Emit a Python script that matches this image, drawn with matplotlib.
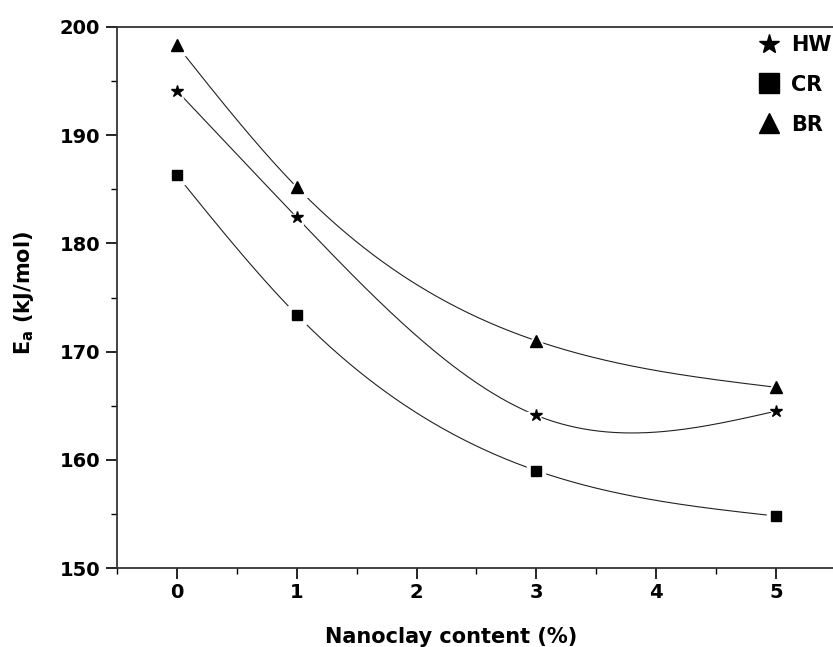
import numpy as np
import matplotlib
matplotlib.use("Agg")
import matplotlib.pyplot as plt
from matplotlib.lines import Line2D
from matplotlib.ticker import MultipleLocator

# ---- data ----
nanoclay = [0, 1, 3, 5]
hw = [194.1, 182.4, 164.1, 164.5]
cr = [186.3, 173.4, 159.0, 154.8]
br = [198.3, 185.2, 171.0, 166.7]
series_labels = ["HW", "CR", "BR"]
x_ticks = [0, 1, 2, 3, 4, 5]
y_ticks = [150, 160, 170, 180, 190, 200]

FONT = "DejaVu Sans"
plt.rcParams["font.family"] = [FONT]
plt.rcParams["font.weight"] = "bold"
plt.rcParams["mathtext.fontset"] = "custom"
plt.rcParams["mathtext.rm"] = FONT + ":bold"
plt.rcParams["mathtext.it"] = FONT + ":bold"


def natural_spline(x, y, xs):
    x = np.asarray(x, float)
    y = np.asarray(y, float)
    n = len(x)
    h = np.diff(x)
    A = np.zeros((n, n))
    b = np.zeros(n)
    A[0, 0] = 1
    A[-1, -1] = 1
    for i in range(1, n - 1):
        A[i, i - 1] = h[i - 1]
        A[i, i] = 2 * (h[i - 1] + h[i])
        A[i, i + 1] = h[i]
        b[i] = 6 * ((y[i + 1] - y[i]) / h[i] - (y[i] - y[i - 1]) / h[i - 1])
    M = np.linalg.solve(A, b)
    out = np.empty_like(xs)
    for k, xv in enumerate(xs):
        i = min(max(np.searchsorted(x, xv) - 1, 0), n - 2)
        hi = h[i]
        a = x[i + 1] - xv
        c = xv - x[i]
        out[k] = (M[i] * a ** 3 / (6 * hi) + M[i + 1] * c ** 3 / (6 * hi)
                  + (y[i] / hi - M[i] * hi / 6) * a
                  + (y[i + 1] / hi - M[i + 1] * hi / 6) * c)
    return out


W, H = 833, 647
fig = plt.figure(figsize=(W / 100, H / 100), dpi=100)
left, right, top, bottom = 117, 836, 27, 568
ax = fig.add_axes([left / W, 1 - bottom / H, (right - left) / W, (bottom - top) / H])

xs = np.linspace(0, 5, 400)
styles = [("*", 9, hw), ("s", 6.5, cr), ("^", 8.5, br)]
for marker, ms, vals in styles:
    ax.plot(xs, natural_spline(nanoclay, vals, xs), color="#222222", lw=0.8, zorder=2)
    ax.plot(nanoclay, vals, linestyle="none", marker=marker, ms=ms + 6,
            color="white", mec="white", zorder=3)
    ax.plot(nanoclay, vals, linestyle="none", marker=marker, ms=ms,
            color="black", mec="black", zorder=4)

ax.set_xlim(-0.5, 5.5)
ax.set_ylim(150, 200)
ax.set_xticks(x_ticks)
ax.set_yticks(y_ticks)
ax.xaxis.set_minor_locator(MultipleLocator(0.5))
ax.yaxis.set_minor_locator(MultipleLocator(5))
ax.tick_params(axis="both", which="major", direction="out", length=8, width=1.2,
               labelsize=14, pad=4)
ax.tick_params(axis="both", which="minor", direction="out", length=4, width=1.0)
ax.tick_params(axis="x", pad=3)
ax.tick_params(top=False, right=False)
for lab in ax.get_xticklabels() + ax.get_yticklabels():
    lab.set_fontweight("bold")
for s in ax.spines.values():
    s.set_linewidth(1.3)
    s.set_color("#333333")

ax.set_xlabel("Nanoclay content (%)", fontsize=15, fontweight="bold")
ax.xaxis.set_label_coords((451 - left) / (right - left), -(627 - bottom) / (bottom - top))
ax.set_ylabel(r"E$_{\mathrm{a}}$ (kJ/mol)", fontsize=15, fontweight="bold")
ax.yaxis.set_label_coords((36 - left) / (right - left), (bottom - 293) / (bottom - top))

handles = [Line2D([], [], linestyle="none", marker=m, ms=ms, color="black")
           for m, ms in [("*", 15), ("s", 14.5), ("^", 15)]]
leg = ax.legend(handles, series_labels, loc="upper left", frameon=False,
                bbox_to_anchor=(759 / W, 1 - 35 / H), bbox_transform=fig.transFigure,
                prop={"weight": "bold", "size": 15},
                handlelength=1.0, handletextpad=0.55, labelspacing=0.95,
                borderaxespad=0, borderpad=0)

fig.savefig("out.png", dpi=100)
